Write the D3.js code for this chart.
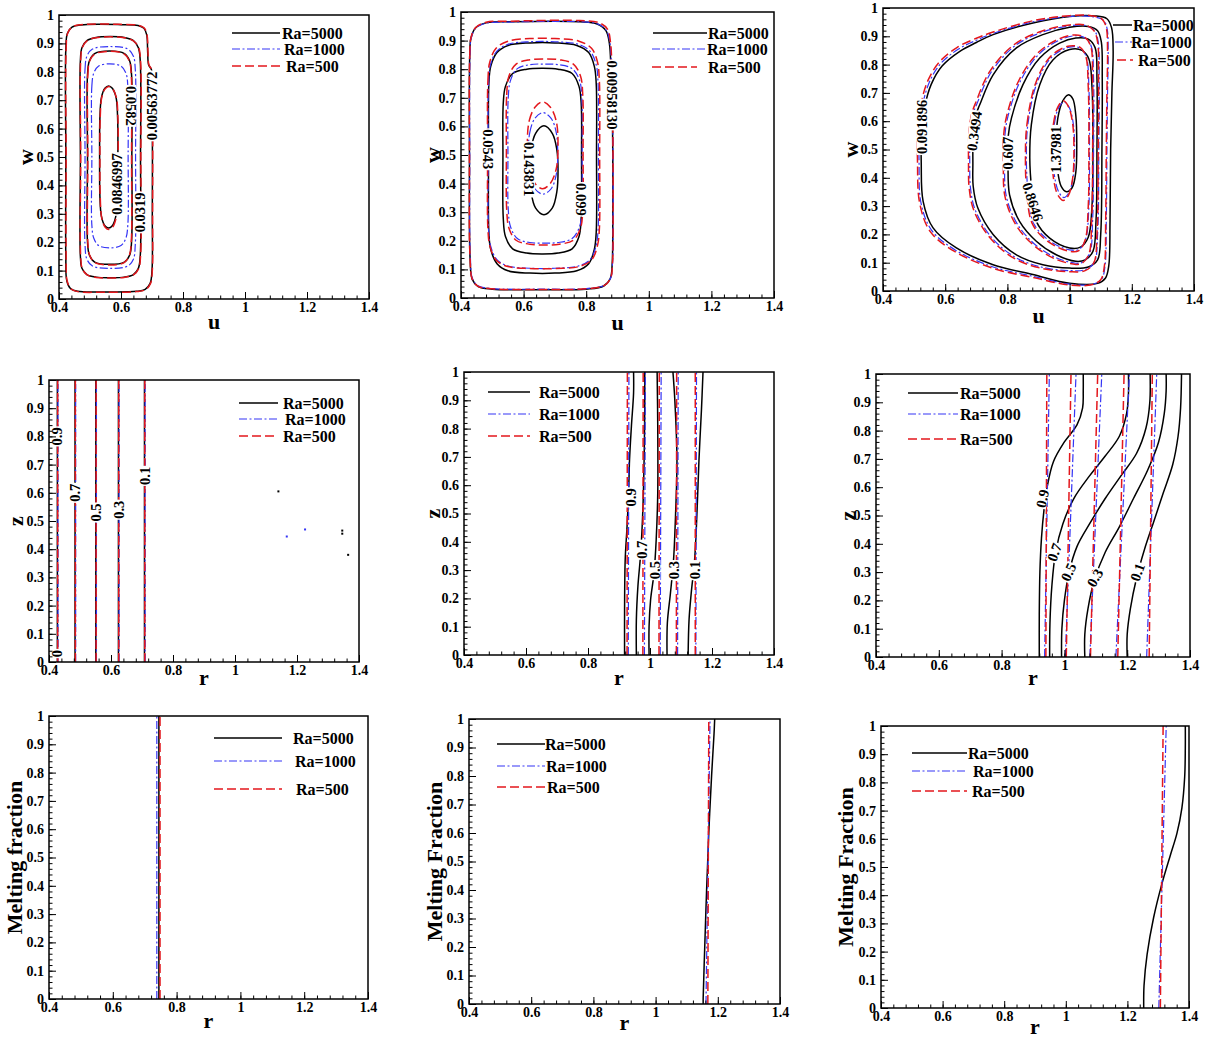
<!DOCTYPE html>
<html><head><meta charset="utf-8">
<script src="https://cdn.jsdelivr.net/npm/d3@7"></script>
<style>
body{margin:0;background:#fff;}
svg{display:block;font-family:"Liberation Serif","Times New Roman",serif;font-weight:bold;}
</style></head><body>
<svg id="chart" width="1205" height="1039"></svg>
<script>
// ---------------- axes / legend ----------------
const xTickValues = [0.4, 0.6, 0.8, 1, 1.2, 1.4];
const yTickValues = [0, 0.1, 0.2, 0.3, 0.4, 0.5, 0.6, 0.7, 0.8, 0.9, 1];
const seriesNames = ["Ra=5000", "Ra=1000", "Ra=500"];

// ---------------- Row 1 : streamlines (u, w) ----------------
// panel A
const psiA_Ra5000 = [
 [[0.422,0.50],[0.422,0.88],[0.427,0.935],[0.442,0.957],[0.47,0.965],[0.60,0.966],[0.655,0.963],[0.674,0.953],[0.683,0.93],[0.686,0.87],[0.689,0.825],[0.699,0.805],[0.701,0.70],[0.701,0.30],[0.700,0.10],[0.694,0.055],[0.678,0.034],[0.650,0.027],[0.55,0.025],[0.46,0.027],[0.437,0.037],[0.425,0.065],[0.422,0.15]],
 [[0.469,0.50],[0.469,0.84],[0.474,0.885],[0.49,0.91],[0.52,0.921],[0.566,0.924],[0.61,0.921],[0.64,0.91],[0.656,0.885],[0.662,0.84],[0.663,0.50],[0.662,0.15],[0.656,0.108],[0.64,0.086],[0.61,0.077],[0.566,0.075],[0.52,0.077],[0.49,0.086],[0.474,0.108],[0.469,0.15]],
 [[0.492,0.50],[0.492,0.79],[0.498,0.838],[0.515,0.864],[0.563,0.873],[0.611,0.864],[0.628,0.838],[0.634,0.79],[0.635,0.50],[0.634,0.20],[0.628,0.155],[0.611,0.13],[0.563,0.122],[0.515,0.13],[0.498,0.155],[0.492,0.20]],
 [[0.531,0.50],[0.532,0.64],[0.537,0.71],[0.548,0.742],[0.56,0.75],[0.572,0.742],[0.584,0.71],[0.589,0.64],[0.590,0.50],[0.589,0.36],[0.583,0.29],[0.572,0.258],[0.56,0.25],[0.548,0.258],[0.537,0.29],[0.532,0.36]]
];
const psiA_Ra1000 = [
 [[0.484,0.50],[0.484,0.81],[0.49,0.855],[0.508,0.88],[0.565,0.889],[0.622,0.88],[0.64,0.855],[0.646,0.81],[0.647,0.50],[0.646,0.19],[0.64,0.14],[0.622,0.116],[0.565,0.108],[0.508,0.116],[0.49,0.14],[0.484,0.19]],
 [[0.506,0.50],[0.506,0.75],[0.512,0.795],[0.528,0.82],[0.564,0.828],[0.600,0.82],[0.616,0.795],[0.622,0.75],[0.623,0.50],[0.622,0.26],[0.616,0.215],[0.600,0.188],[0.564,0.18],[0.528,0.188],[0.512,0.215],[0.506,0.26]]
];
const psiA_Ra500 = [
 [[0.423,0.50],[0.423,0.88],[0.428,0.936],[0.443,0.958],[0.47,0.966],[0.60,0.967],[0.656,0.964],[0.675,0.954],[0.684,0.93],[0.687,0.87],[0.690,0.825],[0.700,0.805],[0.702,0.70],[0.702,0.30],[0.701,0.10],[0.695,0.054],[0.679,0.033],[0.650,0.026],[0.55,0.024],[0.46,0.026],[0.438,0.036],[0.426,0.065],[0.423,0.15]],
 [[0.470,0.50],[0.470,0.84],[0.475,0.885],[0.491,0.91],[0.52,0.920],[0.566,0.923],[0.61,0.920],[0.64,0.909],[0.657,0.885],[0.663,0.84],[0.664,0.50],[0.663,0.15],[0.657,0.107],[0.64,0.085],[0.61,0.076],[0.566,0.074],[0.52,0.076],[0.491,0.085],[0.475,0.107],[0.470,0.15]],
 [[0.493,0.50],[0.493,0.79],[0.499,0.838],[0.516,0.863],[0.563,0.872],[0.610,0.863],[0.627,0.838],[0.633,0.79],[0.634,0.50],[0.633,0.20],[0.627,0.154],[0.610,0.128],[0.563,0.120],[0.516,0.128],[0.499,0.154],[0.493,0.20]],
 [[0.532,0.50],[0.533,0.64],[0.538,0.71],[0.549,0.740],[0.561,0.748],[0.573,0.740],[0.585,0.71],[0.590,0.64],[0.591,0.50],[0.590,0.36],[0.584,0.285],[0.573,0.253],[0.561,0.245],[0.549,0.253],[0.538,0.285],[0.533,0.36]]
];
const psiA_labels = [["0.00563772",0.700,0.68,-90],["0.0582",0.632,0.68,90],["0.0846997",0.587,0.405,-90],["0.0319",0.662,0.305,-90]];

// panel B
const psiB_Ra5000 = [
 [[0.427,0.50],[0.428,0.85],[0.432,0.91],[0.447,0.945],[0.48,0.962],[0.56,0.966],[0.78,0.966],[0.835,0.958],[0.863,0.935],[0.874,0.89],[0.879,0.80],[0.884,0.60],[0.885,0.30],[0.883,0.12],[0.877,0.068],[0.856,0.042],[0.80,0.031],[0.66,0.029],[0.50,0.031],[0.455,0.04],[0.436,0.065],[0.429,0.14]],
 [[0.488,0.50],[0.489,0.75],[0.495,0.81],[0.515,0.858],[0.55,0.883],[0.62,0.892],[0.70,0.892],[0.77,0.883],[0.808,0.858],[0.826,0.81],[0.832,0.75],[0.833,0.50],[0.832,0.23],[0.826,0.17],[0.808,0.12],[0.77,0.095],[0.70,0.087],[0.62,0.087],[0.55,0.095],[0.515,0.12],[0.495,0.17],[0.489,0.23]],
 [[0.534,0.50],[0.535,0.68],[0.542,0.74],[0.565,0.785],[0.61,0.80],[0.66,0.803],[0.71,0.80],[0.755,0.785],[0.777,0.74],[0.784,0.68],[0.785,0.50],[0.784,0.28],[0.777,0.215],[0.755,0.172],[0.71,0.157],[0.66,0.154],[0.61,0.157],[0.565,0.172],[0.542,0.215],[0.535,0.28]],
 [[0.620,0.447],[0.624,0.52],[0.638,0.575],[0.665,0.602],[0.692,0.575],[0.706,0.52],[0.710,0.447],[0.706,0.37],[0.692,0.315],[0.665,0.291],[0.638,0.315],[0.624,0.37]]
];
const psiB_Ra1000 = [
 [[0.428,0.50],[0.429,0.85],[0.433,0.91],[0.448,0.944],[0.48,0.961],[0.56,0.965],[0.78,0.966],[0.837,0.958],[0.865,0.935],[0.876,0.89],[0.881,0.80],[0.885,0.60],[0.886,0.30],[0.884,0.12],[0.878,0.07],[0.857,0.044],[0.80,0.033],[0.66,0.031],[0.50,0.033],[0.456,0.042],[0.437,0.067],[0.430,0.14]],
 [[0.487,0.50],[0.488,0.75],[0.494,0.815],[0.514,0.862],[0.55,0.887],[0.62,0.896],[0.70,0.896],[0.775,0.887],[0.813,0.862],[0.832,0.815],[0.838,0.75],[0.839,0.50],[0.838,0.24],[0.832,0.185],[0.813,0.135],[0.775,0.112],[0.70,0.104],[0.62,0.104],[0.55,0.112],[0.514,0.135],[0.494,0.185],[0.488,0.24]],
 [[0.550,0.50],[0.551,0.70],[0.558,0.76],[0.58,0.802],[0.62,0.816],[0.665,0.818],[0.71,0.816],[0.755,0.802],[0.779,0.76],[0.786,0.70],[0.787,0.50],[0.786,0.31],[0.779,0.25],[0.755,0.208],[0.71,0.194],[0.665,0.192],[0.62,0.194],[0.58,0.208],[0.558,0.25],[0.551,0.31]],
 [[0.615,0.505],[0.620,0.58],[0.636,0.628],[0.662,0.648],[0.688,0.628],[0.704,0.58],[0.709,0.505],[0.704,0.43],[0.688,0.382],[0.662,0.363],[0.636,0.382],[0.620,0.43]]
];
const psiB_Ra500 = [
 [[0.427,0.50],[0.428,0.85],[0.432,0.91],[0.447,0.946],[0.48,0.964],[0.56,0.968],[0.78,0.970],[0.84,0.963],[0.868,0.94],[0.878,0.89],[0.882,0.80],[0.885,0.60],[0.886,0.30],[0.884,0.12],[0.878,0.07],[0.857,0.043],[0.80,0.032],[0.66,0.030],[0.50,0.032],[0.455,0.041],[0.436,0.066],[0.429,0.14]],
 [[0.485,0.50],[0.486,0.76],[0.492,0.825],[0.512,0.873],[0.55,0.898],[0.62,0.907],[0.70,0.907],[0.777,0.898],[0.817,0.873],[0.836,0.825],[0.842,0.76],[0.843,0.50],[0.842,0.24],[0.836,0.183],[0.817,0.133],[0.777,0.11],[0.70,0.103],[0.62,0.103],[0.55,0.11],[0.512,0.133],[0.492,0.183],[0.486,0.24]],
 [[0.545,0.51],[0.546,0.71],[0.553,0.775],[0.576,0.818],[0.62,0.833],[0.667,0.836],[0.714,0.833],[0.759,0.818],[0.782,0.775],[0.789,0.71],[0.790,0.51],[0.789,0.31],[0.782,0.245],[0.759,0.202],[0.714,0.188],[0.667,0.185],[0.62,0.188],[0.576,0.202],[0.553,0.245],[0.546,0.31]],
 [[0.612,0.535],[0.618,0.62],[0.637,0.668],[0.661,0.686],[0.685,0.668],[0.704,0.62],[0.710,0.535],[0.704,0.45],[0.685,0.40],[0.661,0.382],[0.637,0.40],[0.618,0.45]]
];
const psiB_labels = [["0.00958130",0.883,0.71,90],["0.0543",0.488,0.52,90],["0.143831",0.619,0.45,90],["0.099",0.784,0.345,90]];

// panel C
const psiC_Ra5000 = [
 [[0.523,0.45],[0.524,0.56],[0.534,0.65],[0.555,0.73],[0.59,0.795],[0.647,0.847],[0.70,0.878],[0.754,0.906],[0.882,0.947],[1.0,0.97],[1.08,0.972],[1.12,0.962],[1.135,0.93],[1.14,0.85],[1.136,0.70],[1.132,0.50],[1.130,0.25],[1.126,0.09],[1.115,0.045],[1.09,0.027],[1.0,0.027],[0.882,0.058],[0.754,0.093],[0.636,0.152],[0.561,0.223],[0.529,0.317]],
 [[0.689,0.45],[0.69,0.55],[0.698,0.62],[0.711,0.658],[0.754,0.764],[0.829,0.859],[0.914,0.906],[1.0,0.932],[1.06,0.935],[1.09,0.92],[1.102,0.88],[1.105,0.75],[1.104,0.50],[1.10,0.20],[1.09,0.11],[1.06,0.085],[1.0,0.081],[0.914,0.093],[0.829,0.128],[0.754,0.2],[0.705,0.293],[0.69,0.37]],
 [[0.802,0.45],[0.803,0.55],[0.813,0.611],[0.85,0.729],[0.904,0.823],[0.968,0.876],[1.02,0.894],[1.06,0.89],[1.082,0.86],[1.088,0.75],[1.088,0.50],[1.085,0.25],[1.075,0.14],[1.05,0.11],[1.02,0.105],[0.957,0.128],[0.893,0.176],[0.839,0.246],[0.807,0.34]],
 [[0.872,0.47],[0.877,0.588],[0.904,0.729],[0.947,0.817],[1.0,0.853],[1.04,0.85],[1.062,0.82],[1.072,0.72],[1.075,0.50],[1.072,0.30],[1.06,0.19],[1.035,0.155],[1.0,0.152],[0.936,0.187],[0.893,0.246],[0.878,0.36]],
 [[0.957,0.52],[0.962,0.61],[0.978,0.672],[0.995,0.693],[1.01,0.68],[1.02,0.62],[1.023,0.52],[1.02,0.42],[1.008,0.365],[0.99,0.351],[0.973,0.37],[0.961,0.43]]
];
const psiC_Ra1000 = [
 [[0.516,0.45],[0.517,0.56],[0.527,0.655],[0.549,0.738],[0.585,0.803],[0.643,0.855],[0.70,0.886],[0.754,0.91],[0.882,0.951],[1.0,0.97],[1.07,0.97],[1.108,0.958],[1.12,0.93],[1.124,0.85],[1.122,0.70],[1.12,0.50],[1.118,0.25],[1.114,0.09],[1.103,0.042],[1.075,0.024],[1.0,0.024],[0.882,0.052],[0.754,0.085],[0.632,0.145],[0.556,0.215],[0.522,0.312]],
 [[0.679,0.45],[0.680,0.55],[0.689,0.624],[0.703,0.664],[0.747,0.772],[0.824,0.866],[0.911,0.914],[1.0,0.937],[1.052,0.938],[1.08,0.92],[1.092,0.88],[1.095,0.75],[1.094,0.50],[1.090,0.20],[1.08,0.103],[1.052,0.076],[1.0,0.072],[0.911,0.084],[0.824,0.12],[0.747,0.192],[0.696,0.288],[0.681,0.367]],
 [[0.791,0.45],[0.792,0.55],[0.802,0.618],[0.840,0.738],[0.898,0.833],[0.964,0.885],[1.02,0.902],[1.052,0.893],[1.07,0.863],[1.077,0.75],[1.077,0.50],[1.074,0.25],[1.065,0.135],[1.042,0.102],[1.02,0.098],[0.952,0.12],[0.885,0.168],[0.830,0.24],[0.796,0.337]],
 [[0.861,0.47],[0.866,0.59],[0.895,0.735],[0.942,0.826],[1.0,0.862],[1.036,0.857],[1.054,0.826],[1.062,0.72],[1.064,0.50],[1.062,0.30],[1.052,0.185],[1.032,0.148],[1.0,0.145],[0.932,0.18],[0.884,0.24],[0.866,0.357]],
 [[0.947,0.50],[0.951,0.59],[0.965,0.648],[0.982,0.668],[0.999,0.648],[1.012,0.59],[1.016,0.50],[1.012,0.41],[0.999,0.35],[0.982,0.33],[0.965,0.35],[0.951,0.41]]
];
const psiC_Ra500 = [
 [[0.511,0.45],[0.512,0.56],[0.522,0.66],[0.545,0.745],[0.582,0.81],[0.64,0.862],[0.70,0.893],[0.754,0.915],[0.882,0.955],[1.0,0.973],[1.07,0.973],[1.105,0.96],[1.118,0.93],[1.122,0.85],[1.12,0.70],[1.118,0.50],[1.116,0.25],[1.112,0.09],[1.10,0.04],[1.07,0.022],[1.0,0.021],[0.882,0.048],[0.754,0.08],[0.63,0.14],[0.552,0.21],[0.518,0.31]],
 [[0.675,0.45],[0.676,0.55],[0.685,0.625],[0.699,0.668],[0.744,0.777],[0.822,0.871],[0.91,0.918],[1.0,0.94],[1.05,0.94],[1.078,0.92],[1.09,0.88],[1.093,0.75],[1.092,0.50],[1.088,0.20],[1.078,0.10],[1.05,0.072],[1.0,0.068],[0.91,0.08],[0.822,0.115],[0.744,0.188],[0.692,0.285],[0.677,0.365]],
 [[0.787,0.45],[0.788,0.55],[0.798,0.62],[0.836,0.742],[0.895,0.838],[0.962,0.889],[1.02,0.905],[1.05,0.895],[1.068,0.865],[1.074,0.75],[1.074,0.50],[1.071,0.25],[1.062,0.13],[1.04,0.098],[1.02,0.094],[0.95,0.115],[0.882,0.164],[0.826,0.236],[0.792,0.335]],
 [[0.858,0.47],[0.863,0.59],[0.892,0.738],[0.94,0.83],[1.0,0.866],[1.035,0.86],[1.052,0.83],[1.06,0.72],[1.062,0.50],[1.06,0.30],[1.05,0.18],[1.03,0.143],[1.0,0.14],[0.93,0.175],[0.88,0.238],[0.862,0.355]],
 [[0.944,0.495],[0.948,0.59],[0.962,0.65],[0.98,0.672],[0.997,0.65],[1.01,0.59],[1.014,0.495],[1.01,0.40],[0.997,0.34],[0.98,0.32],[0.962,0.34],[0.948,0.40]]
];
const psiC_labels = [["0.091896",0.526,0.58,-90],["0.3494",0.693,0.565,-82],["0.607",0.803,0.487,-90],["0.8646",0.882,0.315,72],["1.37981",0.957,0.50,-90]];

// ---------------- Row 2 : isotherms (r, z) ----------------
const thD_Ra5000 = [[[0.427,0],[0.427,1]],[[0.484,0],[0.484,1]],[[0.551,0],[0.551,1]],[[0.624,0],[0.624,1]],[[0.708,0],[0.708,1]]];
const thD_Ra1000 = [[[0.429,0],[0.429,1]],[[0.486,0],[0.486,1]],[[0.553,0],[0.553,1]],[[0.626,0],[0.626,1]],[[0.710,0],[0.710,1]]];
const thD_Ra500  = [[[0.428,0],[0.428,1]],[[0.485,0],[0.485,1]],[[0.552,0],[0.552,1]],[[0.625,0],[0.625,1]],[[0.709,0],[0.709,1]]];
const thD_labels = [["0.9",0.427,0.80,-90],["0.7",0.484,0.60,-90],["0.5",0.551,0.53,-90],["0.3",0.624,0.54,-90],["0.1",0.708,0.66,-90],["0",0.427,0.03,-90]];
const thD_specks5000 = [[1.14,0.605],[1.346,0.466],[1.346,0.455],[1.365,0.38]];
const thD_specks1000 = [[1.167,0.445],[1.226,0.47]];

const thE_Ra5000 = [
 [[0.918,0],[0.918,0.16],[0.920,0.337],[0.926,0.455],[0.931,0.572],[0.934,0.69],[0.940,0.808],[0.947,0.926],[0.947,1]],
 [[0.956,0],[0.956,0.125],[0.961,0.243],[0.970,0.36],[0.977,0.514],[0.981,0.69],[0.983,0.867],[0.983,1]],
 [[0.997,0],[0.997,0.101],[1.002,0.196],[1.013,0.29],[1.020,0.408],[1.025,0.572],[1.025,0.808],[1.023,1]],
 [[1.055,0],[1.056,0.113],[1.066,0.219],[1.076,0.337],[1.083,0.514],[1.087,0.69],[1.080,0.902],[1.074,1]],
 [[1.123,0],[1.126,0.125],[1.133,0.219],[1.144,0.337],[1.152,0.514],[1.158,0.69],[1.166,0.867],[1.171,1]]
];
const thE_Ra1000 = [[[0.930,0],[0.932,1]],[[0.982,0],[0.985,1]],[[1.033,0],[1.036,1]],[[1.089,0],[1.091,1]],[[1.148,0],[1.150,1]]];
const thE_Ra500  = [[[0.926,0],[0.927,1]],[[0.977,0],[0.978,1]],[[1.029,0],[1.030,1]],[[1.085,0],[1.086,1]],[[1.146,0],[1.146,1]]];
const thE_labels = [["0.9",0.937,0.557,-90],["0.7",0.974,0.372,-90],["0.5",1.016,0.30,-90],["0.3",1.077,0.30,-90],["0.1",1.145,0.30,-90]];

const thF_Ra5000 = [
 [[0.920,0],[0.920,0.15],[0.922,0.30],[0.927,0.42],[0.935,0.52],[0.945,0.60],[0.965,0.69],[1.00,0.76],[1.04,0.82],[1.058,0.88],[1.06,0.94],[1.06,1]],
 [[0.953,0],[0.954,0.12],[0.960,0.25],[0.972,0.37],[0.995,0.47],[1.03,0.56],[1.08,0.64],[1.13,0.71],[1.175,0.78],[1.198,0.86],[1.204,0.93],[1.204,1]],
 [[0.991,0],[0.992,0.10],[1.000,0.20],[1.015,0.30],[1.04,0.39],[1.08,0.47],[1.13,0.56],[1.18,0.64],[1.23,0.72],[1.26,0.81],[1.272,0.90],[1.273,1]],
 [[1.065,0],[1.065,0.08],[1.075,0.17],[1.095,0.27],[1.13,0.37],[1.175,0.46],[1.22,0.56],[1.265,0.66],[1.30,0.76],[1.318,0.86],[1.324,0.94],[1.324,1]],
 [[1.20,0],[1.20,0.08],[1.21,0.17],[1.23,0.28],[1.255,0.38],[1.285,0.48],[1.315,0.58],[1.345,0.68],[1.362,0.78],[1.370,0.88],[1.373,1]]
];
const thF_Ra1000 = [[[0.937,0],[0.952,1]],[[1.003,0],[1.037,1]],[[1.081,0],[1.119,1]],[[1.164,0],[1.207,1]],[[1.262,0],[1.294,1]]];
const thF_Ra500  = [[[0.941,0],[0.944,1]],[[1.006,0],[1.021,1]],[[1.083,0],[1.106,1]],[[1.170,0],[1.190,1]],[[1.270,0],[1.280,1]]];
const thF_labels = [["0.9",0.93,0.56,-78],["0.7",0.968,0.37,-70],["0.5",1.013,0.30,-65],["0.3",1.097,0.28,-60],["0.1",1.232,0.30,-70]];

// ---------------- Row 3 : melting front (r, melting fraction) ----------------
const mfG_Ra5000 = [[[0.7445,0],[0.7445,1]]];
const mfG_Ra1000 = [[[0.738,0],[0.738,1]]];
const mfG_Ra500  = [[[0.748,0],[0.748,1]]];
const mfH_Ra5000 = [[[1.153,0],[1.153,0.02],[1.158,0.2],[1.164,0.4],[1.171,0.6],[1.180,0.8],[1.188,0.95],[1.190,1]]];
const mfH_Ra1000 = [[[1.162,0],[1.175,1]]];
const mfH_Ra500  = [[[1.168,0],[1.171,1]]];
const mfI_Ra5000 = [[[1.253,0],[1.254,0.08],[1.264,0.19],[1.285,0.32],[1.312,0.44],[1.339,0.54],[1.361,0.62],[1.377,0.71],[1.386,0.82],[1.388,0.92],[1.388,1]]];
const mfI_Ra1000 = [[[1.302,0],[1.326,1]]];
const mfI_Ra500  = [[[1.307,0],[1.316,1]]];

// ---------------- layout (pixels) ----------------
const panels = [
 {box:[59,15,369,299], xt:"u", yt:"w", xtY:329, ytX:33, closed:true, series:[psiA_Ra5000,psiA_Ra1000,psiA_Ra500], labels:psiA_labels,
  legend:[[232,280,33,282],[232,280,49,284],[232,280,66,286]]},
 {box:[461,12,774,298], xt:"u", yt:"w", xtY:330, ytX:440, closed:true, series:[psiB_Ra5000,psiB_Ra1000,psiB_Ra500], labels:psiB_labels,
  legend:[[653,707,33,708],[652,705,49,707],[652,697,67,708]]},
 {box:[883,8,1194,291], xt:"u", yt:"w", xtY:323, ytX:858, closed:true, series:[psiC_Ra5000,psiC_Ra1000,psiC_Ra500], labels:psiC_labels,
  legend:[[1113,1132,25,1133],[1115,1132,42,1131],[1117,1133,60,1138]]},
 {box:[49,380,359,662], xt:"r", yt:"z", xtY:685, ytX:23, closed:false, series:[thD_Ra5000,thD_Ra1000,thD_Ra500], labels:thD_labels,
  specks:[thD_specks5000, thD_specks1000, []],
  legend:[[239,278,403,283],[239,278,419,285],[239,278,436,283]]},
 {box:[464,372,774,655], xt:"r", yt:"z", xtY:685, ytX:440, closed:false, series:[thE_Ra5000,thE_Ra1000,thE_Ra500], labels:thE_labels,
  legend:[[488,530,392,539],[488,530,414,539],[488,530,436,539]]},
 {box:[876,374,1190,657], xt:"r", yt:"z", xtY:685, ytX:855, closed:false, series:[thF_Ra5000,thF_Ra1000,thF_Ra500], labels:thF_labels,
  legend:[[908,958,393,960],[908,958,414,960],[908,958,439,960]]},
 {box:[49,716,368,999], xt:"r", yt:"Melting fraction", xtY:1028, ytX:22, closed:false, series:[mfG_Ra5000,mfG_Ra1000,mfG_Ra500], labels:[],
  legend:[[214,282,738,293],[214,282,761,295],[214,282,789,296]]},
 {box:[469,719,780,1004], xt:"r", yt:"Melting Fraction", xtY:1030, ytX:442, closed:false, series:[mfH_Ra5000,mfH_Ra1000,mfH_Ra500], labels:[],
  legend:[[497,545,744,545],[497,545,766,546],[497,545,787,547]]},
 {box:[881,726,1189,1008], xt:"r", yt:"Melting Fraction", xtY:1034, ytX:853, closed:false, series:[mfI_Ra5000,mfI_Ra1000,mfI_Ra500], labels:[],
  legend:[[912,967,753,968],[912,967,771,973],[912,967,791,972]]}
];

const styles = [
 {stroke:"#000000", width:1.5, dash:null},
 {stroke:"#3434f5", width:1.2, dash:"8,2.5,2,2.5"},
 {stroke:"#e3171c", width:1.5, dash:"9,4"}
];

const svg = d3.select("#chart");
const fmt = d3.format("~g");

panels.forEach((p, pi) => {
  const [x0,y0,x1,y1] = p.box;
  const x = d3.scaleLinear().domain([0.4,1.4]).range([x0,x1]);
  const y = d3.scaleLinear().domain([0,1]).range([y1,y0]);
  const g = svg.append("g");

  const clipId = "clip"+pi;
  svg.append("clipPath").attr("id",clipId).append("rect")
    .attr("x",x0).attr("y",y0).attr("width",x1-x0).attr("height",y1-y0);
  const plot = g.append("g").attr("clip-path",`url(#${clipId})`);

  const line = d3.line().x(d=>x(d[0])).y(d=>y(d[1]))
    .curve(p.closed ? d3.curveCatmullRomClosed.alpha(0.5) : d3.curveCatmullRom.alpha(0.5));

  p.series.forEach((ser, si) => {
    const st = styles[si];
    plot.append("g").selectAll("path").data(ser).join("path")
      .attr("d", line).attr("fill","none")
      .attr("stroke", st.stroke).attr("stroke-width", st.width)
      .attr("stroke-dasharray", st.dash);
  });

  if (p.specks) {
    p.specks.forEach((pts, si) => {
      plot.append("g").selectAll("rect").data(pts).join("rect")
        .attr("x", d=>x(d[0])-1).attr("y", d=>y(d[1])-1)
        .attr("width",2).attr("height",2).attr("fill", styles[si].stroke);
    });
  }

  // contour labels
  p.labels.forEach(([t,u,w,ang]) => {
    const lg = plot.append("g").attr("transform",`translate(${x(u)},${y(w)}) rotate(${ang})`);
    const bg = lg.append("rect").attr("fill","#fff");
    const tx = lg.append("text").attr("text-anchor","middle").attr("dy","0.35em")
      .attr("font-size",14.5).attr("fill","#000").text(t);
    const len = tx.node().getComputedTextLength();
    bg.attr("x",-len/2-1).attr("y",-5.5).attr("width",len+2).attr("height",11);
  });

  // axes
  const xMinor = d3.range(0.4, 1.4001, 0.04);
  const yMinor = d3.range(0, 1.0001, 0.02);
  g.append("g").attr("transform",`translate(0,${y1})`)
    .call(d3.axisBottom(x).tickValues(xMinor).tickSize(-3.5).tickFormat(""))
    .call(a=>a.select(".domain").remove());
  g.append("g").attr("transform",`translate(${x0},0)`)
    .call(d3.axisLeft(y).tickValues(yMinor).tickSize(-3.5).tickFormat(""))
    .call(a=>a.select(".domain").remove());
  const xa = g.append("g").attr("transform",`translate(0,${y1})`)
    .call(d3.axisBottom(x).tickValues(xTickValues).tickSizeInner(-7).tickSizeOuter(0).tickPadding(3).tickFormat(fmt))
    .call(a=>a.select(".domain").remove());
  const ya = g.append("g").attr("transform",`translate(${x0},0)`)
    .call(d3.axisLeft(y).tickValues(yTickValues).tickSizeInner(-7).tickSizeOuter(0).tickPadding(5).tickFormat(fmt))
    .call(a=>a.select(".domain").remove());
  [xa, ya].forEach(a => a.attr("font-family",null).attr("font-size",null)
    .selectAll("text").attr("font-size",14).attr("font-weight","bold").attr("fill","#000"));
  g.selectAll(".tick line").attr("stroke","#000");

  g.append("rect").attr("x",x0).attr("y",y0).attr("width",x1-x0).attr("height",y1-y0)
    .attr("fill","none").attr("stroke","#000").attr("stroke-width",1.5);

  // axis titles
  g.append("text").attr("x",(x0+x1)/2).attr("y",p.xtY).attr("text-anchor","middle")
    .attr("font-size",22).text(p.xt);
  g.append("text").attr("transform",`translate(${p.ytX},${(y0+y1)/2}) rotate(-90)`)
    .attr("text-anchor","middle").attr("font-size",22).text(p.yt);

  // legend
  p.legend.forEach(([lx1,lx2,ly,tx], si) => {
    const st = styles[si];
    g.append("line").attr("x1",lx1).attr("x2",lx2).attr("y1",ly).attr("y2",ly)
      .attr("stroke",st.stroke).attr("stroke-width",st.width).attr("stroke-dasharray",st.dash);
    g.append("text").attr("x",tx).attr("y",ly).attr("dy","0.35em").attr("font-size",16).text(seriesNames[si]);
  });
});
</script>
</body></html>
